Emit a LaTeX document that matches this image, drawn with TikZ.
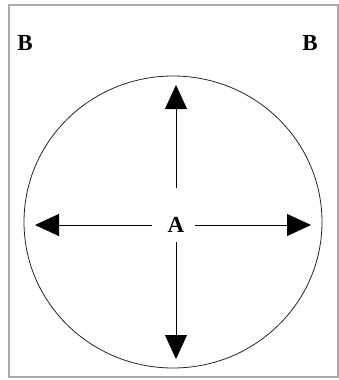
\documentclass[tikz,border=0pt]{standalone}
\usepackage{fontspec}
\setmainfont{Liberation Serif}
\usetikzlibrary{arrows.meta,positioning}
\definecolor{framecol}{RGB}{170,170,170}

\begin{document}
\begin{tikzpicture}[
    x=1pt, y=-1pt,
    lbl/.style={font=\fontsize{23}{26}\selectfont\bfseries, inner sep=0pt},
    spoke/.style={-{Triangle[length=24pt,width=22pt]}, line width=0.8pt, shorten >=1pt},
]
\useasboundingbox (0,0) rectangle (339,380);
\draw[framecol, line width=2pt] (9,5) rectangle (338,377);

% the ring
\draw[line width=0.8pt, black!85] (173,222) ellipse [x radius=149, y radius=146];

\node[lbl] (A) at (176,225) {A};
\node[lbl] (Bl) at (25,43) {B};
\node[lbl] (Br) at (310,43) {B};

\coordinate (up)    at (176,84);
\coordinate (down)  at (176,360);
\coordinate (left)  at (34,225);
\coordinate (right) at (312,225);

\draw[spoke, shorten <=37pt] (A.center) -- (up);
\draw[spoke, shorten <=17pt] (A.center) -- (down);
\draw[spoke, shorten <=24pt] (A.center) -- (left);
\draw[spoke, shorten <=19pt] (A.center) -- (right);
\end{tikzpicture}
\end{document}
